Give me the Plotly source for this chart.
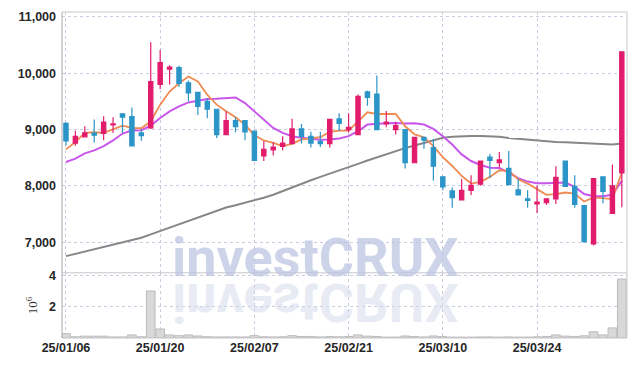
import plotly.graph_objects as go

# ---------------- data ----------------
dates = [
    "2025-01-06", "2025-01-07", "2025-01-08", "2025-01-09", "2025-01-10",
    "2025-01-13", "2025-01-14", "2025-01-15", "2025-01-16", "2025-01-17",
    "2025-01-20", "2025-01-21", "2025-01-22", "2025-01-23", "2025-01-24",
    "2025-01-31", "2025-02-03", "2025-02-04", "2025-02-05", "2025-02-06",
    "2025-02-07", "2025-02-10", "2025-02-11", "2025-02-12", "2025-02-13",
    "2025-02-14", "2025-02-17", "2025-02-18", "2025-02-19", "2025-02-20",
    "2025-02-21", "2025-02-24", "2025-02-25", "2025-02-26", "2025-02-27",
    "2025-02-28", "2025-03-04", "2025-03-05", "2025-03-06", "2025-03-07",
    "2025-03-10", "2025-03-11", "2025-03-12", "2025-03-13", "2025-03-14",
    "2025-03-17", "2025-03-18", "2025-03-19", "2025-03-20", "2025-03-21",
    "2025-03-24", "2025-03-25", "2025-03-26", "2025-03-27", "2025-03-28",
    "2025-03-31", "2025-04-01", "2025-04-02", "2025-04-03", "2025-04-04",
]

open_p = [9110, 8760, 8870, 8935, 8930, 9080, 9280, 9230, 8940, 9030,
          9800, 10070, 10100, 9830, 9660, 9500, 9360, 8910, 9160, 9160,
          8970, 8530, 8640, 8700, 8750, 9010, 8880, 8790, 8750, 9190,
          9000, 8910, 9670, 9630, 9100, 9000, 9000, 8410, 8860, 8680,
          8160, 7910, 7750, 7920, 8030, 8510, 8410, 8310, 7930, 7770,
          7680, 7700, 7770, 8440, 7990, 7650, 6970, 8160, 7510, 8230]
high_p = [9130, 8980, 9060, 9180, 9235, 9220, 9290, 9390, 9000, 10550,
          10410, 10140, 10130, 9870, 9670, 9550, 9370, 9320, 9220, 9170,
          8980, 8790, 8780, 8880, 9190, 9100, 8960, 8960, 9180, 9290,
          9290, 9620, 9690, 9960, 9330, 9140, 9010, 8870, 8870, 8830,
          8170, 7970, 8120, 8190, 8440, 8570, 8600, 8620, 8120, 7920,
          8000, 7780, 8350, 8450, 8190, 7660, 8140, 8170, 8380, 10380]
low_p = [8720, 8710, 8860, 8770, 8810, 8940, 8940, 8700, 8800, 9010,
         9720, 9800, 9760, 9500, 9260, 9200, 8850, 8900, 8950, 8810,
         8440, 8440, 8540, 8630, 8740, 8750, 8680, 8690, 8680, 8980,
         8950, 8900, 9420, 8990, 9040, 8910, 8310, 8400, 8660, 8090,
         7920, 7610, 7740, 7840, 8000, 8140, 8330, 8010, 7835, 7610,
         7520, 7660, 7680, 7980, 7610, 6990, 6940, 7690, 7500, 7620]
close_p = [8800, 8880, 8940, 8900, 9130, 9100, 9220, 8710, 8890, 9850,
           10190, 10110, 9820, 9650, 9410, 9360, 8910, 9160, 9050, 8960,
           8450, 8650, 8690, 8760, 9010, 8880, 8760, 8750, 9180, 9110,
           9040, 9590, 9570, 9000, 9130, 9070, 8410, 8860, 8810, 8350,
           7980, 7790, 7920, 8010, 8440, 8450, 8460, 8020, 7840, 7740,
           7710, 7770, 8150, 7990, 7670, 7010, 8130, 7900, 8000, 10380]

ma5 = [8647, 8776, 8940, 8952, 8940, 9000, 9070, 9028, 9023, 9146,
       9441, 9675, 9822, 9940, 9852, 9617, 9441, 9323, 9217, 9088,
       8899, 8806, 8764, 8705, 8746, 8824, 8841, 8864, 8958, 8982,
       8982, 9146, 9305, 9276, 9282, 9276, 9058, 8912, 8864, 8705,
       8511, 8353, 8176, 8041, 8070, 8159, 8277, 8265, 8118, 8041,
       7942, 7841, 7854, 7882, 7864, 7723, 7794, 7783, 7765, 8235]
ma10 = [8423, 8482, 8577, 8630, 8705, 8806, 8929, 8982, 8988, 9070,
        9205, 9323, 9411, 9481, 9511, 9540, 9546, 9558, 9570, 9470,
        9323, 9176, 9028, 8940, 8882, 8852, 8834, 8817, 8824, 8841,
        8882, 8970, 9088, 9106, 9111, 9117, 9106, 9111, 9088, 9011,
        8882, 8735, 8559, 8441, 8370, 8323, 8317, 8235, 8136, 8076,
        8048, 8048, 8058, 8058, 7982, 7854, 7817, 7817, 7841, 8088]
ma_long = [6753, 6794, 6835, 6875, 6916, 6957, 6997, 7038, 7080, 7140,
           7200, 7260, 7320, 7380, 7440, 7500, 7560, 7615, 7657, 7700,
           7742, 7790, 7842, 7910, 7975, 8040, 8100, 8160, 8215, 8275,
           8335, 8390, 8450, 8505, 8560, 8620, 8670, 8715, 8765, 8810,
           8855, 8870, 8880, 8887, 8885, 8880, 8870, 8850, 8835, 8820,
           8800, 8790, 8780, 8772, 8765, 8760, 8755, 8745, 8735, 8750]

volume = [280000, 80000, 120000, 120000, 120000, 70000, 70000, 200000, 80000, 3030000,
          580000, 200000, 150000, 200000, 130000, 80000, 70000, 70000, 70000, 70000,
          150000, 80000, 70000, 80000, 150000, 100000, 100000, 70000, 100000, 80000,
          100000, 200000, 120000, 100000, 60000, 60000, 130000, 90000, 70000, 130000,
          90000, 60000, 60000, 60000, 70000, 70000, 60000, 70000, 60000, 60000,
          80000, 100000, 200000, 120000, 100000, 140000, 400000, 200000, 650000, 3800000]

price_ticks = [7000, 8000, 9000, 10000, 11000]
volume_ticks = [2000000, 4000000]
volume_tick_labels = ["2", "4"]
date_tick_every = 10
watermark = "investCRUX"

# ---------------- figure ----------------
idx = list(range(len(dates)))
tick_idx = idx[::date_tick_every]
tick_text = [dates[i][2:].replace("-", "/") for i in tick_idx]

RED = "#e21c6c"
BLUE = "#2c95c7"
GRID = "#c9cce0"
TICKFONT = dict(family="Liberation Sans, Arial, sans-serif",
                size=12.5, color="#262626", weight="bold")

fig = go.Figure()

fig.add_trace(go.Bar(
    x=idx, y=volume, yaxis="y2",
    marker=dict(color="#d8d8d8", line=dict(color="#bcbcbc", width=1)),
    hoverinfo="skip",
))

fig.add_trace(go.Scatter(x=idx, y=ma_long, mode="lines", zorder=-1,
                         line=dict(color="#878787", width=2), hoverinfo="skip"))
fig.add_trace(go.Scatter(x=idx, y=ma10, mode="lines", zorder=-1,
                         line=dict(color="#c956ea", width=2), hoverinfo="skip"))
fig.add_trace(go.Scatter(x=idx, y=ma5, mode="lines", zorder=-1,
                         line=dict(color="#ee8a52", width=1.8), hoverinfo="skip"))

fig.add_trace(go.Candlestick(
    x=idx, open=open_p, high=high_p, low=low_p, close=close_p,
    increasing=dict(line=dict(color=RED, width=1.2), fillcolor=RED),
    decreasing=dict(line=dict(color=BLUE, width=1.2), fillcolor=BLUE),
    whiskerwidth=0, hoverinfo="skip",
))

VDOM = 0.2
fig.update_layout(
    width=635, height=367,
    margin=dict(l=62, r=8, t=10, b=29),
    paper_bgcolor="white", plot_bgcolor="white",
    showlegend=False,
    boxgap=0.35, bargap=0.08,
    xaxis=dict(
        range=[-0.42, 59.55], anchor="y2",
        tickmode="array", tickvals=tick_idx, ticktext=tick_text,
        showgrid=True, gridcolor=GRID, griddash="dot", gridwidth=1,
        zeroline=False, showline=False, ticks="",
        tickfont=TICKFONT, rangeslider=dict(visible=False),
    ),
    yaxis=dict(
        domain=[VDOM, 1], range=[6457, 11086],
        tickmode="array", tickvals=price_ticks, tickformat=",d",
        showgrid=True, gridcolor=GRID, griddash="dot", gridwidth=1,
        zeroline=False, ticks="", tickfont=TICKFONT, ticklabelstandoff=5,
    ),
    yaxis2=dict(
        domain=[0, VDOM], range=[0, 4.2e6],
        tickmode="array", tickvals=volume_ticks, ticktext=volume_tick_labels,
        showgrid=True, gridcolor=GRID, griddash="dot", gridwidth=1,
        zeroline=False, ticks="", tickfont=TICKFONT, ticklabelstandoff=5,
        title=dict(text="10<sup>6</sup>", standoff=8,
                   font=dict(family="Liberation Serif, DejaVu Serif, serif", size=13, color="#333")),
    ),
)

# frame lines
frame = "#c8c8cc"
for (x0, y0, x1, y1, c) in [
    (0, 0, 0, 1, "#a8a8ad"),
    (1, 0, 1, 1, frame),
    (0, 1, 1, 1, frame),
    (0, VDOM, 1, VDOM, frame),
    (0, 0, 1, 0, frame),
]:
    fig.add_shape(type="line", xref="paper", yref="paper", x0=x0, y0=y0, x1=x1, y1=y1,
                  line=dict(color=c, width=1), layer="above")

# watermark + reflection
fig.add_annotation(text=watermark, xref="paper", yref="paper", x=0.449, y=0.145,
                   xanchor="center", yanchor="bottom", showarrow=False,
                   font=dict(family="Roboto, sans-serif", size=54, color="rgba(188,196,226,0.75)", weight="bold"))
fig.add_annotation(text=watermark, xref="paper", yref="paper", x=0.449, y=0.212,
                   xanchor="center", yanchor="top", showarrow=False,
                   font=dict(family="Roboto, sans-serif", size=54, color="rgba(215,218,235,0.55)", weight="bold"))

post = """
var gd = document.getElementById('{plot_id}');
function flip(){
  var anns = gd.querySelectorAll('.annotation');
  if (anns.length > 1) {
    var t = anns[1].querySelector('text');
    if (t) {
      t.style.transformBox = 'fill-box';
      t.style.transformOrigin = 'center';
      t.style.transform = 'scaleY(-1)';
    }
  }
}
flip();
gd.on && gd.on('plotly_afterplot', flip);
"""

fig.write_html("out.html", post_script=post, config={"displayModeBar": False})
